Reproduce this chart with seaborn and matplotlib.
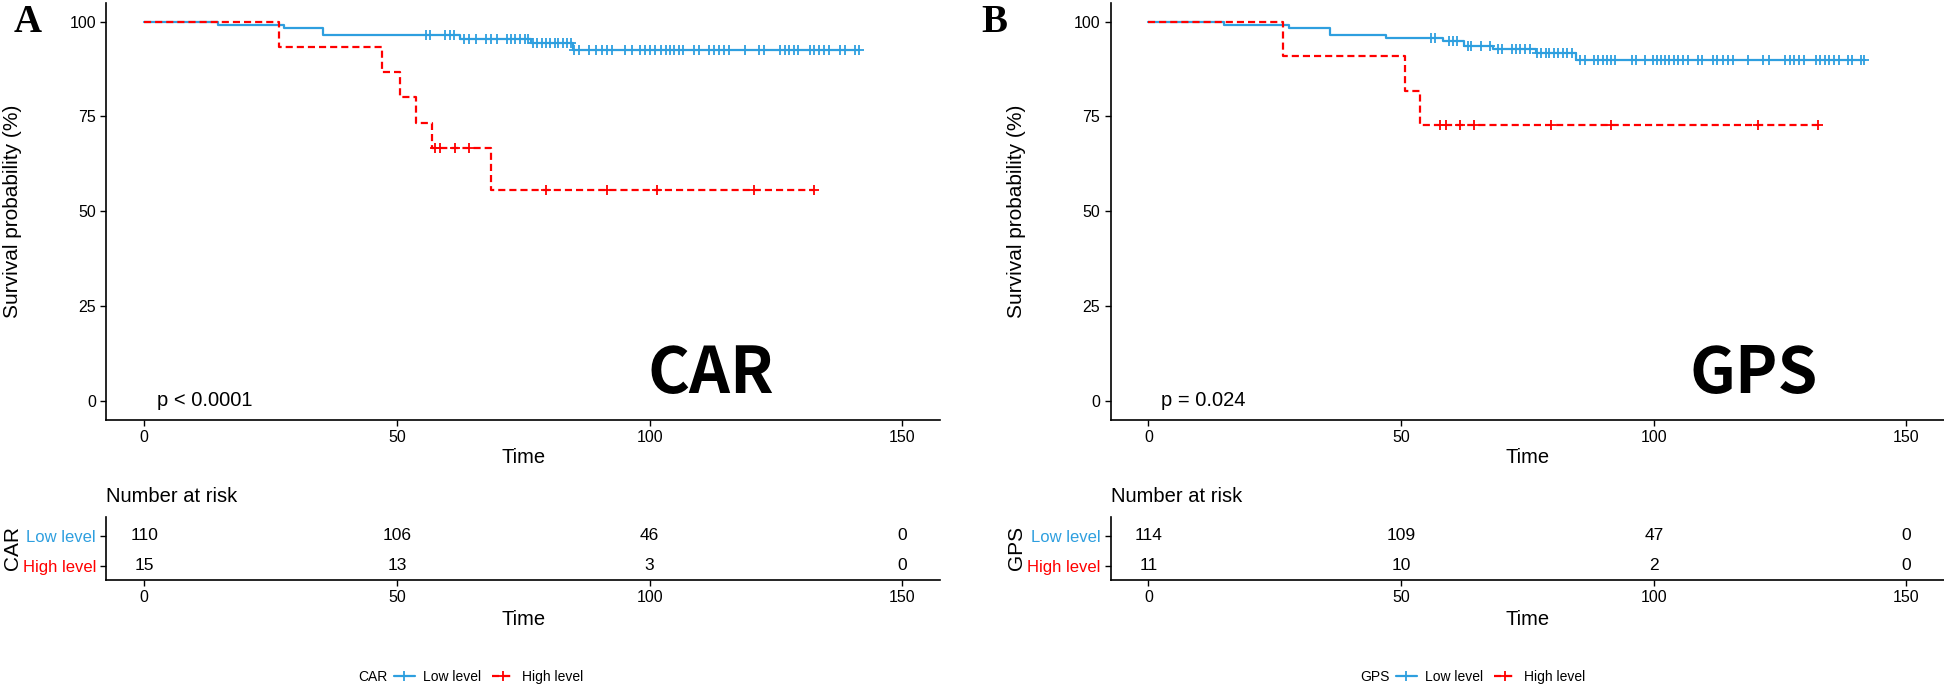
import numpy as np
import matplotlib
matplotlib.use("Agg")
import matplotlib.pyplot as plt
import seaborn as sns
from matplotlib.lines import Line2D

BLUE = "#2E9FDF"
RED = "#FF0000"
DASH = (0, (3.2, 1.8))

# ---- panel A : CAR ----
carLowTimes = [0, 14.6, 27.6, 35.4, 62.5, 76.5, 84.8, 141.4]
carLowSurv = [100, 99.1, 98.2, 96.4, 95.4, 94.3, 92.5, 92.5]
carLowCensor = [55.7, 56.6, 59.6, 60.5, 61.2,
                63.3, 64.3, 65.6, 67.7, 68.6, 69.7, 71.7, 72.6, 73.4, 74.4, 75.3, 76.0,
                77.0, 77.8, 78.7, 79.5, 80.3, 81.2, 81.9, 82.8, 83.6, 84.5,
                85.0, 86.0, 88.1, 89.4, 90.6, 91.5, 92.6, 95.2, 96.6, 98.0, 99.0, 100.0, 101.0,
                102.3, 103.2, 104.1, 104.9, 105.9, 106.7, 108.7, 109.7, 111.7, 112.7, 113.7,
                114.7, 115.7, 118.9, 121.6, 122.6, 125.8, 126.7, 127.6, 128.5, 129.4, 131.7,
                132.6, 133.5, 134.5, 135.4, 137.6, 138.6, 140.6, 141.4]
carHighTimes = [0, 26.6, 47.0, 50.6, 53.8, 57.0, 68.7, 132.5]
carHighSurv = [100, 93.3, 86.7, 80.0, 73.3, 66.7, 55.6, 55.6]
carHighCensor = [57.6, 58.5, 61.4, 64.3, 79.5, 91.5, 101.5, 120.6, 132.5]

# ---- panel B : GPS ----
gpsLowTimes = [0, 14.9, 27.9, 35.9, 47.0, 58.2, 62.5, 68.1, 76.6, 84.6, 141.6]
gpsLowSurv = [100, 99.1, 98.2, 96.5, 95.6, 94.8, 93.6, 92.7, 91.6, 89.9, 89.9]
gpsLowCensor = [55.9, 56.7, 59.5, 60.3, 61.0, 63.2, 63.9, 65.8, 67.6,
                69.1, 70.0, 71.9, 72.8, 73.6, 74.5, 75.4,
                76.8, 77.7, 78.6, 79.3, 80.2, 81.1, 82.0, 82.9, 83.8,
                85.3, 86.3, 88.1, 88.9, 89.9, 90.8, 91.6, 92.4, 95.6, 96.5, 98.3,
                99.9, 100.6, 101.5, 102.3, 103.1, 104.0, 104.8, 105.8, 106.7, 108.8, 109.6,
                111.8, 112.6, 113.6, 114.6, 115.7, 118.7, 121.7, 122.7, 126.0, 126.9, 127.8,
                128.7, 129.7, 132.0, 132.9, 133.8, 134.7, 135.7, 136.6, 138.4, 139.2, 141.0, 141.6]
gpsHighTimes = [0, 26.7, 50.8, 53.8, 132.5]
gpsHighSurv = [100, 90.9, 81.8, 72.7, 72.7]
gpsHighCensor = [57.6, 58.8, 61.6, 64.5, 79.6, 91.5, 120.6, 132.5]

# number at risk
riskTimes = [0, 50, 100, 150]
carLowRisk = [110, 106, 46, 0]
carHighRisk = [15, 13, 3, 0]
gpsLowRisk = [114, 109, 47, 0]
gpsHighRisk = [11, 10, 2, 0]
groupLabels = ["Low level", "High level"]

sns.set_style("ticks")
plt.rcParams['font.family'] = ['Liberation Sans', 'DejaVu Sans']
plt.rcParams['text.color'] = 'black'
plt.rcParams['axes.labelcolor'] = 'black'

W, H = 1944, 687
fig = plt.figure(figsize=(W / 100, H / 100), dpi=100)


def stepValue(times, surv, t):
    idx = np.searchsorted(times, t, side="right") - 1
    return surv[idx]


def styleAxis(ax):
    sns.despine(ax=ax)
    for s in ["left", "bottom"]:
        ax.spines[s].set_linewidth(1.2)
        ax.spines[s].set_color("black")
    ax.tick_params(colors="black", length=4, width=1, labelsize=11.5)
    ax.set_xlim(-7.5, 157.5)
    ax.set_xticks(riskTimes)


def drawPanel(left, name, pText, curves, lowRisk, highRisk, bigX, letter, letterX, legendX):
    width = 0.4289
    ax = fig.add_axes([left, 1 - 419.6 / H, width, 416.9 / H])
    for times, surv, cens, color, ls in curves:
        sns.lineplot(x=times, y=surv, drawstyle="steps-post", estimator=None, sort=False,
                     color=color, linewidth=1.6, linestyle=ls, ax=ax)
        cy = [stepValue(times, surv, t) for t in cens]
        sns.scatterplot(x=cens, y=cy, marker="+", s=45, color=color, linewidth=1.3,
                        ax=ax, zorder=3)
    styleAxis(ax)
    ax.set_ylim(-5, 105)
    ax.set_yticks([0, 25, 50, 75, 100])
    ax.set_xlabel("Time", fontsize=14.5)
    ax.xaxis.set_label_coords(0.5, -0.068)
    ax.set_ylabel("Survival probability (%)", fontsize=15)
    ax.yaxis.set_label_coords(-0.101, 0.5)
    ax.text(2.5, 0, pText, fontsize=14.5, ha="left", va="center")
    ax.text(bigX, 2.0, name, fontsize=46, fontweight="bold", ha="center", va="baseline",
            family=["Noto Sans CJK SC", "DejaVu Sans"])

    # risk table
    rt = fig.add_axes([left, 1 - 580 / H, width, 63.3 / H])
    styleAxis(rt)
    rt.set_ylim(0.533, 2.643)
    rt.set_yticks([2, 1])
    rt.set_yticklabels(groupLabels, fontsize=12)
    for lab, c in zip(rt.get_yticklabels(), [BLUE, RED]):
        lab.set_color(c)
    for t, a, b in zip(riskTimes, lowRisk, highRisk):
        rt.text(t, 2, str(a), fontsize=12.5, ha="center", va="center")
        rt.text(t, 1, str(b), fontsize=12.5, ha="center", va="center")
    rt.set_xlabel("Time", fontsize=14.5)
    rt.xaxis.set_label_coords(0.5, -0.48)
    rt.set_ylabel(name, fontsize=15)
    rt.yaxis.set_label_coords(-0.101, 0.5)
    rt.text(0, 1.316, "Number at risk", fontsize=14.5, ha="left", va="center",
            transform=rt.transAxes)

    fig.text(letterX / W, 1 - 23 / H, letter, fontsize=28, fontweight="bold",
             family=["Liberation Serif", "DejaVu Serif"], ha="center", va="center")

    # legend
    fig.text(legendX / W, 1 - 677 / H, name, fontsize=10, ha="left", va="center")
    handles = [Line2D([0], [0], color=BLUE, lw=1.6, marker="+", markersize=7, mew=1.3),
               Line2D([0], [0], color=RED, lw=1.6, ls=DASH, marker="+",
                      markersize=7, mew=1.3)]
    fig.legend(handles, groupLabels, loc="center left",
               bbox_to_anchor=((legendX + 36) / W, 1 - 677 / H), ncol=2, frameon=False,
               fontsize=10, handlelength=1.5, handletextpad=0.6, columnspacing=0.8,
               borderpad=0, borderaxespad=0, numpoints=1)


drawPanel(106.4 / W, "CAR", "p < 0.0001",
          [(carLowTimes, carLowSurv, carLowCensor, BLUE, "-"),
           (carHighTimes, carHighSurv, carHighCensor, RED, DASH)],
          carLowRisk, carHighRisk, 112.1, "A", 28, 358)
drawPanel(1110.6 / W, "GPS", "p = 0.024",
          [(gpsLowTimes, gpsLowSurv, gpsLowCensor, BLUE, "-"),
           (gpsHighTimes, gpsHighSurv, gpsHighCensor, RED, DASH)],
          gpsLowRisk, gpsHighRisk, 119.7, "B", 994, 1360)

fig.savefig("out.png", dpi=100)
